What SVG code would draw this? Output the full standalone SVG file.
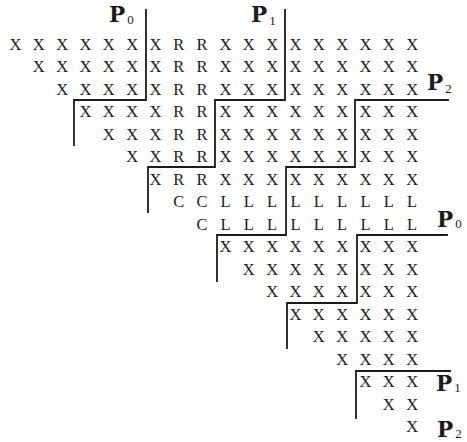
<svg xmlns="http://www.w3.org/2000/svg" width="467" height="442" viewBox="0 0 467 442">
<style>
.t{font-family:"Liberation Serif","DejaVu Serif",serif;font-size:16.5px;fill:#1c1c1c;text-anchor:middle}
.ln{stroke:#1c1c1c;stroke-width:1.8;fill:none;stroke-linecap:square}
.P{font-family:"DejaVu Serif","Liberation Serif",serif;font-weight:bold;font-size:21.5px;fill:#1c1c1c}
.sub{font-family:"Liberation Serif","DejaVu Serif",serif;font-weight:normal;font-size:13px}
</style>
<rect width="467" height="442" fill="#ffffff"/>
<g id="matrix">
<g id="row0">
<text class="t" x="15.5 27.2 38.8 50.5 62.2 73.8 85.5 97.2 108.8 120.5 132.2" y="49.5">X X X X X X</text>
<text class="t" x="155.5 167.2 178.8 190.5 202.1 213.8 225.5 237.2 248.8 260.5 272.1" y="49.5">X R R X X X</text>
<text class="t" x="295.5 307.2 318.8 330.5 342.1 353.8 365.5 377.2 388.8 400.5 412.1" y="49.5">X X X X X X</text>
</g>
<g id="row1">
<text class="t" x="38.8 50.5 62.2 73.8 85.5 97.2 108.8 120.5 132.2" y="72">X X X X X</text>
<text class="t" x="155.5 167.2 178.8 190.5 202.1 213.8 225.5 237.2 248.8 260.5 272.1" y="72">X R R X X X</text>
<text class="t" x="295.5 307.2 318.8 330.5 342.1 353.8 365.5 377.2 388.8 400.5 412.1" y="72">X X X X X X</text>
</g>
<g id="row2">
<text class="t" x="62.2 73.8 85.5 97.2 108.8 120.5 132.2" y="94.5">X X X X</text>
<text class="t" x="155.5 167.2 178.8 190.5 202.1 213.8 225.5 237.2 248.8 260.5 272.1" y="94.5">X R R X X X</text>
<text class="t" x="295.5 307.2 318.8 330.5 342.1 353.8 365.5 377.2 388.8 400.5 412.1" y="94.5">X X X X X X</text>
</g>
<g id="row3">
<text class="t" x="85.5 97.2 108.8 120.5 132.2 143.8 155.5 167.2 178.8 190.5 202.1" y="117">X X X X R R</text>
<text class="t" x="225.5 237.2 248.8 260.5 272.1 283.8 295.5 307.2 318.8 330.5 342.1" y="117">X X X X X X</text>
<text class="t" x="365.5 377.2 388.8 400.5 412.1" y="117">X X X</text>
</g>
<g id="row4">
<text class="t" x="108.8 120.5 132.2 143.8 155.5 167.2 178.8 190.5 202.1" y="139.5">X X X R R</text>
<text class="t" x="225.5 237.2 248.8 260.5 272.1 283.8 295.5 307.2 318.8 330.5 342.1" y="139.5">X X X X X X</text>
<text class="t" x="365.5 377.2 388.8 400.5 412.1" y="139.5">X X X</text>
</g>
<g id="row5">
<text class="t" x="132.2 143.8 155.5 167.2 178.8 190.5 202.1" y="162">X X R R</text>
<text class="t" x="225.5 237.2 248.8 260.5 272.1 283.8 295.5 307.2 318.8 330.5 342.1" y="162">X X X X X X</text>
<text class="t" x="365.5 377.2 388.8 400.5 412.1" y="162">X X X</text>
</g>
<g id="row6">
<text class="t" x="155.5 167.2 178.8 190.5 202.1 213.8 225.5 237.2 248.8 260.5 272.1" y="184.5">X R R X X X</text>
<text class="t" x="295.5 307.2 318.8 330.5 342.1 353.8 365.5 377.2 388.8 400.5 412.1" y="184.5">X X X X X X</text>
</g>
<g id="row7">
<text class="t" x="178.8 190.5 202.1 213.8 225.5 237.2 248.8 260.5 272.1" y="207">C C L L L</text>
<text class="t" x="295.5 307.2 318.8 330.5 342.1 353.8 365.5 377.2 388.8 400.5 412.1" y="207">L L L L L L</text>
</g>
<g id="row8">
<text class="t" x="202.1 213.8 225.5 237.2 248.8 260.5 272.1" y="229.5">C L L L</text>
<text class="t" x="295.5 307.2 318.8 330.5 342.1 353.8 365.5 377.2 388.8 400.5 412.1" y="229.5">L L L L L L</text>
</g>
<g id="row9">
<text class="t" x="225.5 237.2 248.8 260.5 272.1 283.8 295.5 307.2 318.8 330.5 342.1" y="252">X X X X X X</text>
<text class="t" x="365.5 377.2 388.8 400.5 412.1" y="252">X X X</text>
</g>
<g id="row10">
<text class="t" x="248.8 260.5 272.1 283.8 295.5 307.2 318.8 330.5 342.1" y="274.5">X X X X X</text>
<text class="t" x="365.5 377.2 388.8 400.5 412.1" y="274.5">X X X</text>
</g>
<g id="row11">
<text class="t" x="272.1 283.8 295.5 307.2 318.8 330.5 342.1" y="297">X X X X</text>
<text class="t" x="365.5 377.2 388.8 400.5 412.1" y="297">X X X</text>
</g>
<g id="row12">
<text class="t" x="295.5 307.2 318.8 330.5 342.1 353.8 365.5 377.2 388.8 400.5 412.1" y="319.5">X X X X X X</text>
</g>
<g id="row13">
<text class="t" x="318.8 330.5 342.1 353.8 365.5 377.2 388.8 400.5 412.1" y="342">X X X X X</text>
</g>
<g id="row14">
<text class="t" x="342.1 353.8 365.5 377.2 388.8 400.5 412.1" y="364.5">X X X X</text>
</g>
<g id="row15">
<text class="t" x="365.5 377.2 388.8 400.5 412.1" y="387">X X X</text>
</g>
<g id="row16">
<text class="t" x="388.8 400.5 412.1" y="409.5">X X</text>
</g>
<g id="row17">
<text class="t" x="412.1" y="432">X</text>
</g>
</g>
<g id="connectors">
<path class="ln" d="M146,10 V100 H74 V145"/>
<path class="ln" d="M285,10 V100 H215 V167 H148 V212"/>
<path class="ln" d="M448,100 H355 V167 H286 V235 H217 V281"/>
<path class="ln" d="M447,235 H357 V303 H287 V348"/>
<path class="ln" d="M450,371 H356 V418"/>
</g>
<g id="labels">
<text id="P0-top" class="P" x="109" y="22">P<tspan class="sub" dx="2" dy="2">0</tspan></text>
<text id="P1-top" class="P" x="251" y="22">P<tspan class="sub" dx="2" dy="3">1</tspan></text>
<text id="P2-upper" class="P" x="427" y="90">P<tspan class="sub" dx="2" dy="3">2</tspan></text>
<text id="P0-mid" class="P" x="437" y="227">P<tspan class="sub" dx="2" dy="1">0</tspan></text>
<text id="P1-low" class="P" x="436" y="391">P<tspan class="sub" dx="2" dy="1">1</tspan></text>
<text id="P2-bottom" class="P" x="437" y="437">P<tspan class="sub" dx="2" dy="1">2</tspan></text>
</g>
</svg>
